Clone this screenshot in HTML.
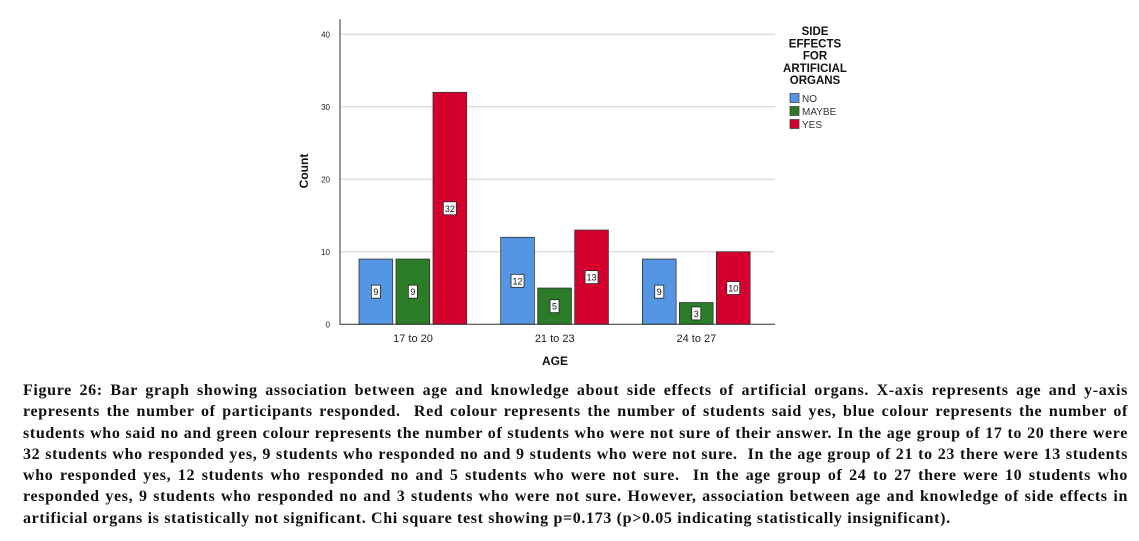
<!DOCTYPE html>
<html><head><meta charset="utf-8">
<style>
body{margin:0;background:#fff;width:1139px;height:541px;overflow:hidden;position:relative}
#cap{position:absolute;left:23px;top:380px;width:1105px;font-family:"Liberation Serif",serif;font-weight:bold;font-size:16px;letter-spacing:0.65px;line-height:21.3px;color:#111}
#cap div{text-align:justify;text-align-last:justify;white-space:nowrap}
#cap div.last{text-align-last:left}
</style></head><body>
<svg id="chart" width="1139" height="375" style="position:absolute;left:0;top:0" font-family="Liberation Sans, sans-serif"></svg>
<div id="cap">
<div>Figure 26: Bar graph showing association between age and knowledge about side effects of artificial organs. X-axis represents age and y-axis</div>
<div>represents the number of participants responded.&nbsp; Red colour represents the number of students said yes, blue colour represents the number of</div>
<div>students who said no and green colour represents the number of students who were not sure of their answer. In the age group of 17 to 20 there were</div>
<div>32 students who responded yes, 9 students who responded no and 9 students who were not sure.&nbsp; In the age group of 21 to 23 there were 13 students</div>
<div>who responded yes, 12 students who responded no and 5 students who were not sure.&nbsp; In the age group of 24 to 27 there were 10 students who</div>
<div>responded yes, 9 students who responded no and 3 students who were not sure. However, association between age and knowledge of side effects in</div>
<div class="last">artificial organs is statistically not significant. Chi square test showing p=0.173 (p&gt;0.05 indicating statistically insignificant).</div>
</div>
<script>
const categories=["17 to 20","21 to 23","24 to 27"];
const seriesNames=["NO","MAYBE","YES"];
const seriesNo=[9,12,9];
const seriesMaybe=[9,5,3];
const seriesYes=[32,13,10];
const yTicks=[0,10,20,30,40];
const colors=["#5596e4","#2a7c26","#d6002f"];
const NS="http://www.w3.org/2000/svg";
const svg=document.getElementById('chart');
function el(t,a,p){const e=document.createElementNS(NS,t);for(const k in a)e.setAttribute(k,a[k]);(p||svg).appendChild(e);return e;}
const x0=340,x1=775,y0=324.3,y40=34.3;
function yS(v){return y0-(v/40)*(y0-y40);}
function xC(i){return 413+i*141.7;}
yTicks.forEach(t=>{
  if(t>0){const g=el('line',{x1:x0,x2:x1,y1:yS(t),y2:yS(t),stroke:'#d0d0d0','stroke-width':1});
  
  }
  const tx=el('text',{x:x0-10,y:yS(t)+3,'font-size':8,'text-anchor':'end',fill:'#222'});
  tx.textContent=t;
  
  
});
const series=[seriesNo,seriesMaybe,seriesYes];
const bw=33.7,step=37;
series.forEach((s,si)=>{
  s.forEach((v,i)=>{
    const bx=xC(i)-54+si*step;
    const r=el('rect',{x:bx,y:yS(v),width:bw,height:y0-yS(v),fill:colors[si],stroke:'#333','stroke-width':0.8});
    
    
    const cy=(yS(v)+y0)/2, lw=String(v).length>1?13:9;
    const lb=el('rect',{x:bx+bw/2-lw/2,y:cy-6.5,width:lw,height:13,fill:'#fff',stroke:'#222','stroke-width':0.8});
    
    
    const lt=el('text',{x:bx+bw/2,y:cy+3.5,'font-size':9,'text-anchor':'middle',fill:'#111'});
    lt.textContent=v;
    
    
  });
});
categories.forEach((c,i)=>{
  const t=el('text',{x:xC(i),y:342,'font-size':11,'text-anchor':'middle',fill:'#222'});
  t.textContent=c;
  
  
});
const ax=el('path',{d:`M${x0} ${y40-15}V${y0}H${x1}`,fill:'none',stroke:'#333','stroke-width':1});


const xt=el('text',{x:555,y:365,'font-size':12,'font-weight':'bold','text-anchor':'middle',fill:'#111'});
xt.textContent='AGE';


const yt=el('text',{x:0,y:0,'font-size':12,'font-weight':'bold','text-anchor':'middle',fill:'#111',transform:'translate(308,171) rotate(-90)'});
yt.textContent='Count';


["SIDE","EFFECTS","FOR","ARTIFICIAL","ORGANS"].forEach((w,i)=>{
  const t=el('text',{x:815,y:35+i*12.3,'font-size':11.5,'font-weight':'bold','text-anchor':'middle',fill:'#111'});
  t.textContent=w;
  
  
});
seriesNames.forEach((n,i)=>{
  const r=el('rect',{x:790,y:93.5+i*13,width:9,height:9,fill:colors[i],stroke:'#333','stroke-width':0.7});
  
  
  const t=el('text',{x:802,y:102+i*13,'font-size':10,fill:'#333'});
  t.textContent=n;
  
  
});
</script>
</body></html>
